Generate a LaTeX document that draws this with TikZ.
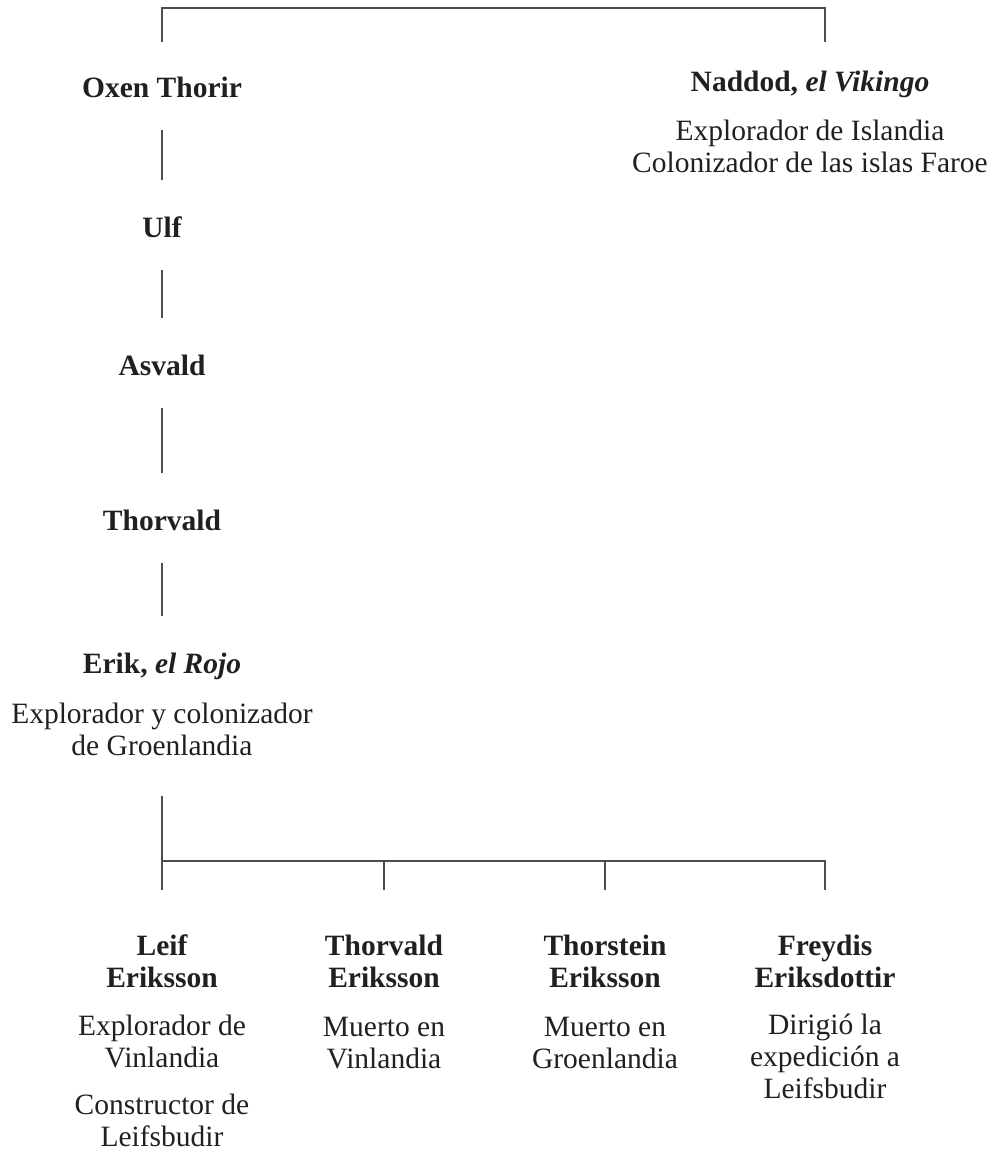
\documentclass[tikz,border=0pt]{standalone}
\usepackage{fontspec}
\setmainfont{Liberation Serif}
\definecolor{tinta}{HTML}{231F20}
\definecolor{trazo}{HTML}{4D4D4D}

\begin{document}
\begin{tikzpicture}[
        x=1pt, y=-1pt,
        persona/.style={anchor=base, align=center, inner sep=0pt, text=tinta, font=\fontsize{29.5}{32}\selectfont\bfseries},
        nota/.style={anchor=base, align=center, inner sep=0pt, text=tinta, font=\fontsize{29.5}{32}\selectfont},
        rama/.style={draw=trazo, line width=1.2pt},
        enlace/.style={rama, shorten <=33pt, shorten >=57pt}
    ]
        \useasboundingbox (0,0) rectangle (1005,1149);

        % linea directa
        \node[persona] (oxen) at (162,97) {Oxen Thorir};
        \node[persona] (ulf) at (162,237) {Ulf};
        \node[persona] (asvald) at (162,375) {Asvald};
        \node[persona] (thorvald) at (162,530) {Thorvald};
        \node[persona] (erik) at (162,673) {Erik, \textit{el Rojo}};
        \node[nota] (erikN) at ([yshift=-82pt]erik.base) {Explorador y colonizador\\de Groenlandia};

        \node[persona] (naddod) at (810,91) {Naddod, \textit{el Vikingo}};
        \node[nota] (naddodN) at ([yshift=-81pt]naddod.base) {Explorador de Islandia\\Colonizador de las islas Faroe};
        \coordinate (arribaN) at (825,42);

        % hijos (base = ultima linea)
        \node[persona] (leif) at (162,987) {Leif\\Eriksson};
        \node[persona] (thorvaldE) at (384,987) {Thorvald\\Eriksson};
        \node[persona] (thorstein) at (605,987) {Thorstein\\Eriksson};
        \node[persona] (freydis) at (825,987) {Freydis\\Eriksdottir};

        \node[nota] (leifN) at (162,1146) {Explorador de\\Vinlandia\\[15pt]Constructor de\\Leifsbudir};
        \node[nota] (thorvaldEN) at (384,1068) {Muerto en\\Vinlandia};
        \node[nota] (thorsteinN) at (605,1068) {Muerto en\\Groenlandia};
        \node[nota] (freydisN) at (825,1098) {Dirigió la\\expedición a\\Leifsbudir};
        \coordinate (barra) at (162,861);

        \draw[rama] ([yshift=55pt]oxen.base) -- ++(0,-34) -| (arribaN);
        \draw[enlace] (oxen.base) -- (ulf.base);
        \draw[enlace] (ulf.base) -- (asvald.base);
        \draw[enlace] (asvald.base) -- (thorvald.base);
        \draw[enlace] (thorvald.base) -- (erik.base);

        \draw[rama] ([yshift=-123pt]erik.base) -- ([yshift=97pt]leif.base);
        \draw[rama] (barra) -| ([yshift=97pt]freydis.base);
        \foreach \h in {thorvaldE, thorstein}
            \draw[rama] (barra -| \h.base) -- ([yshift=97pt]\h.base);
    \end{tikzpicture}
\end{document}
